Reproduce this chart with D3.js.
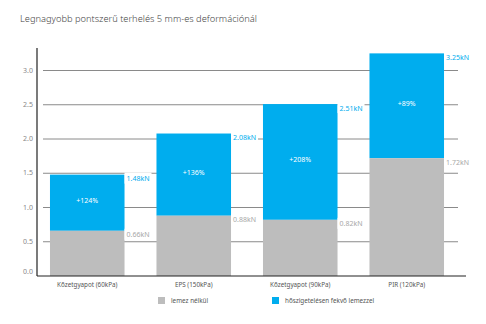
<!DOCTYPE html>
<html>
<head>
<meta charset="utf-8">
<script src="https://cdn.jsdelivr.net/npm/d3@7"></script>
<style>
  body { margin: 0; background: #fff; }
  svg { display: block; font-family: "Noto Sans", sans-serif; }
</style>
</head>
<body>
<div id="chart"></div>
<script>
// chart data
const categories = ["Kőzetgyapot (60kPa)", "EPS (150kPa)", "Kőzetgyapot (90kPa)", "PIR (120kPa)"];
const baseValues = [0.66, 0.88, 0.82, 1.72];       // lemez nélkül
const totalValues = [1.48, 2.08, 2.51, 3.25];      // hőszigetelésen fekvő lemezzel
const gainLabels = ["+124%", "+136%", "+208%", "+89%"];
const yTicks = [0, 0.5, 1.0, 1.5, 2.0, 2.5, 3.0];
const seriesNames = ["lemez nélkül", "hőszigetelésen fekvő lemezzel"];

const GREY = "#bdbdbd";
const BLUE = "#00adee";

const width = 486, height = 324;
const margin = { top: 48, right: 23, bottom: 48, left: 37 };
const innerW = width - margin.left - margin.right;
const innerH = height - margin.top - margin.bottom;

const svg = d3.select("#chart").append("svg")
    .attr("width", width)
    .attr("height", height);

svg.append("text")
    .attr("x", 20)
    .attr("y", 22)
    .attr("fill", "#444")
    .attr("font-size", 9.3)
    .attr("font-weight", 300)
    .text("Legnagyobb pontszerű terhelés 5 mm-es deformációnál");

const g = svg.append("g")
    .attr("transform", "translate(" + margin.left + "," + margin.top + ")");

const x = d3.scaleBand()
    .domain(categories)
    .range([-3, innerW - 3])
    .paddingInner(0.3)
    .paddingOuter(0.15);

const y = d3.scaleLinear()
    .domain([0, 3.0])
    .range([innerH, innerH - 205.5]);

// gridlines (start a bit right of the axis)
g.append("g").selectAll("line")
    .data(yTicks.filter(d => d > 0))
    .enter().append("line")
    .attr("x1", 6)
    .attr("x2", innerW - 5)
    .attr("y1", d => y(d))
    .attr("y2", d => y(d))
    .attr("stroke", "#8a8a8a")
    .attr("stroke-width", 1);

// y tick labels
g.append("g").selectAll("text")
    .data(yTicks)
    .enter().append("text")
    .attr("x", -4)
    .attr("y", d => y(d) - (d === 0 ? 2 : -2))
    .attr("text-anchor", "end")
    .attr("fill", "#888")
    .attr("font-size", 7)
    .text(d => d.toFixed(1));

const rows = categories.map((c, i) => ({
    cat: c, base: baseValues[i], total: totalValues[i], gain: gainLabels[i]
}));

// blue segment
g.selectAll(".top-bar")
    .data(rows)
    .enter().append("rect")
    .attr("class", "top-bar")
    .attr("x", d => x(d.cat))
    .attr("width", x.bandwidth())
    .attr("y", d => y(d.total))
    .attr("height", d => y(d.base) - y(d.total))
    .attr("fill", BLUE);

// grey segment
g.selectAll(".base-bar")
    .data(rows)
    .enter().append("rect")
    .attr("class", "base-bar")
    .attr("x", d => x(d.cat))
    .attr("width", x.bandwidth())
    .attr("y", d => y(d.base))
    .attr("height", d => y(0) - y(d.base))
    .attr("fill", GREY);

// percentage labels inside blue
g.selectAll(".gain")
    .data(rows)
    .enter().append("text")
    .attr("class", "gain")
    .attr("x", d => x(d.cat) + x.bandwidth() / 2)
    .attr("y", d => (y(d.total) + y(d.base)) / 2)
    .attr("text-anchor", "middle")
    .attr("fill", "#fff")
    .attr("font-size", 7)
    .text(d => d.gain);

// value labels with white backgrounds
function valueLabels(key, color) {
    const lab = g.append("g").selectAll("g")
        .data(rows)
        .enter().append("g")
        .attr("transform", d => "translate(" + (x(d.cat) + x.bandwidth()) + "," + y(d[key]) + ")");
    lab.append("rect")
        .attr("x", 0)
        .attr("y", -2)
        .attr("width", 27)
        .attr("height", 11)
        .attr("fill", "#fff");
    lab.append("text")
        .attr("x", 2)
        .attr("y", 6.5)
        .attr("fill", color)
        .attr("font-size", 7)
        .text(d => d[key].toFixed(2) + "kN");
}
valueLabels("total", BLUE);
valueLabels("base", "#a8a8a8");

// axes lines
g.append("line")
    .attr("x1", 0).attr("x2", 0)
    .attr("y1", 0).attr("y2", innerH)
    .attr("stroke", "#222").attr("stroke-width", 1.2);
g.append("line")
    .attr("x1", 0).attr("x2", innerW + 3)
    .attr("y1", innerH).attr("y2", innerH)
    .attr("stroke", "#222").attr("stroke-width", 1.2);

// category labels
g.selectAll(".cat")
    .data(categories)
    .enter().append("text")
    .attr("class", "cat")
    .attr("x", d => x(d) + x.bandwidth() / 2)
    .attr("y", innerH + 11)
    .attr("text-anchor", "middle")
    .attr("fill", "#555")
    .attr("font-size", 6.3)
    .text(d => d);

// legend
const legendX = [158, 272];
const legendColors = [GREY, BLUE];
const legend = svg.append("g").selectAll("g")
    .data(seriesNames)
    .enter().append("g")
    .attr("transform", (d, i) => "translate(" + legendX[i] + ",297)");
legend.append("rect")
    .attr("width", 7)
    .attr("height", 7)
    .attr("fill", (d, i) => legendColors[i]);
legend.append("text")
    .attr("x", 13)
    .attr("y", 6)
    .attr("fill", "#555")
    .attr("font-size", 6.3)
    .text(d => d);
</script>
</body>
</html>
